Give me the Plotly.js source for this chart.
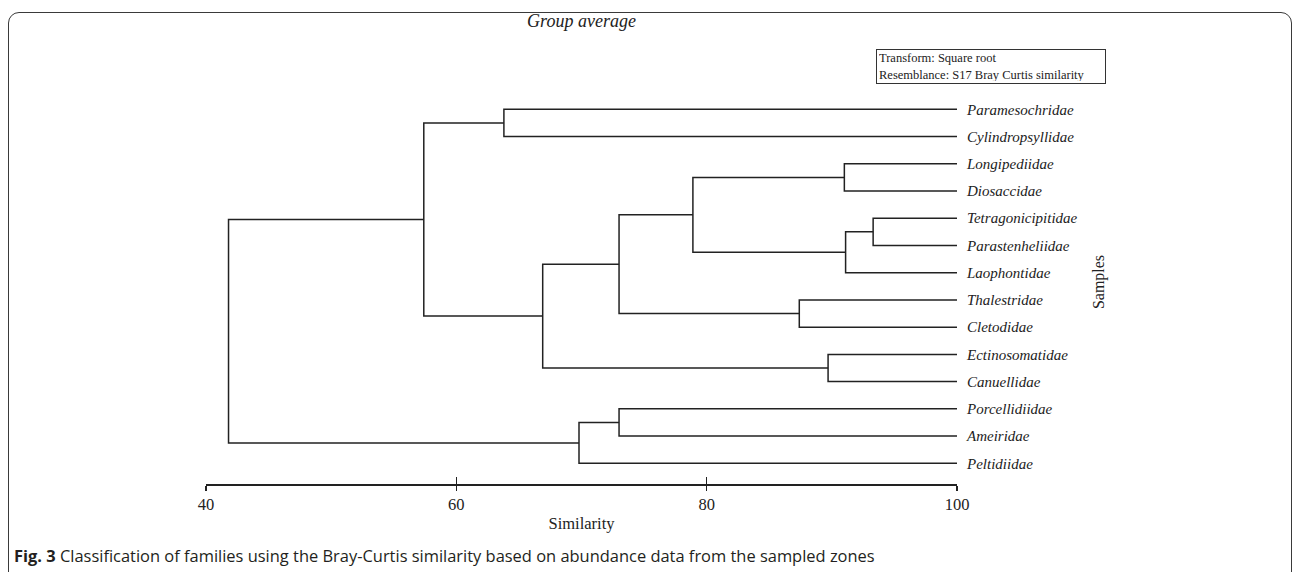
<!DOCTYPE html>
<html>
<head>
<meta charset="utf-8">
<script src="https://cdn.plot.ly/plotly-3.0.1.min.js"></script>
<style>
  html, body { margin: 0; padding: 0; background: #fff; }
  #wrap { position: relative; width: 1293px; height: 572px; overflow: hidden; }
  #frame { position: absolute; left: 8px; top: 12px; width: 1284px; height: 640px;
           border: 1.5px solid #3a3a3a; border-radius: 11px; box-sizing: border-box; }
  #chart { position: absolute; left: 0; top: 0; width: 1293px; height: 572px; }
</style>
</head>
<body>
<div id="wrap">
  <div id="frame"></div>
  <div id="chart"></div>
</div>
<script>
// Leaves (top to bottom)
const leaves = ["Paramesochridae", "Cylindropsyllidae", "Longipediidae", "Diosaccidae",
  "Tetragonicipitidae", "Parastenheliidae", "Laophontidae", "Thalestridae", "Cletodidae",
  "Ectinosomatidae", "Canuellidae", "Porcellidiidae", "Ameiridae", "Peltidiidae"];
// Merges: node id = leaves.length + merge index
const mergeLeft   = [4, 14, 2, 9, 7, 16, 0, 19, 21, 11, 23, 20, 25];
const mergeRight  = [5, 6, 3, 10, 8, 15, 1, 18, 17, 12, 13, 22, 24];
const mergeHeight = [93.3, 91.1, 91.0, 89.7, 87.4, 78.9, 63.8, 73.0, 66.9, 73.0, 69.8, 57.4, 41.8];
const xTicks = [40, 60, 80, 100];

const n = leaves.length;
const posY = [], posX = [];
for (let i = 0; i < n; i++) { posY.push(i); posX.push(100); }

const lx = [], ly = [];
for (let k = 0; k < mergeHeight.length; k++) {
  const a = mergeLeft[k], b = mergeRight[k], h = mergeHeight[k];
  lx.push(posX[a], h, h, posX[b], null);
  ly.push(posY[a], posY[a], posY[b], posY[b], null);
  posX.push(h);
  posY.push((posY[a] + posY[b]) / 2);
}

const serif = "Liberation Serif, Times New Roman, serif";
const ink = "#222";

const traces = [
  { type: "scatter", mode: "lines", x: lx, y: ly, connectgaps: false,
    line: { color: ink, width: 1.5 }, hoverinfo: "skip", showlegend: false, cliponaxis: false },
  { type: "scatter", mode: "markers", x: mergeHeight, y: posY.slice(n), xaxis: "x2",
    marker: { opacity: 0 }, hoverinfo: "skip", showlegend: false }
];

const layout = {
  width: 1293, height: 572,
  margin: { l: 206, r: 336, t: 80, b: 88 },
  paper_bgcolor: "rgba(0,0,0,0)",
  plot_bgcolor: "rgba(0,0,0,0)",
  showlegend: false,
  font: { family: serif, color: ink },
  title: { text: "<i>Group average</i>", font: { family: serif, size: 18, color: ink },
           x: 0.5, xref: "paper", xanchor: "center", y: 0.963, yref: "container", yanchor: "middle" },
  xaxis: {
    range: [40, 100], tickvals: xTicks, ticktext: xTicks.map(String),
    ticks: "outside", ticklen: 5, tickwidth: 1.5, tickcolor: ink,
    showline: true, linecolor: ink, linewidth: 1.5, showgrid: false, zeroline: false,
    tickfont: { family: serif, size: 16.5, color: ink },
    title: { text: "Similarity", font: { family: serif, size: 16.5, color: ink }, standoff: 4 }
  },
  xaxis2: {
    overlaying: "x", anchor: "y", side: "bottom",
    range: [40, 100], tickvals: xTicks, showticklabels: false,
    ticks: "inside", ticklen: 7, tickwidth: 1.5, tickcolor: ink,
    showline: false, showgrid: false, zeroline: false
  },
  yaxis: {
    range: [13.76, -1.076], side: "right",
    tickvals: leaves.map((_, i) => i), ticktext: leaves.map(s => "<i>" + s + "</i>"),
    ticks: "", ticklabelstandoff: 9,
    showline: false, showgrid: false, zeroline: false,
    tickfont: { family: serif, size: 15, color: ink },
    title: { text: "Samples", font: { family: serif, size: 16, color: ink }, standoff: 16 }
  },
  annotations: [
    { xref: "paper", yref: "paper", x: 0.892, y: 1.0767, xanchor: "left", yanchor: "top",
      text: "Transform: Square root<br>Resemblance: S17 Bray Curtis similarity",
      align: "left", showarrow: false, font: { family: serif, size: 12.5, color: ink },
      width: 224, height: 29,
      bordercolor: "#333", borderwidth: 1, borderpad: 2, bgcolor: "#fff" },
    { xref: "paper", yref: "paper", x: -0.2588, y: -0.178, xanchor: "left", yanchor: "middle",
      text: "<b>Fig. 3</b> Classification of families using the Bray-Curtis similarity based on abundance data from the sampled zones",
      showarrow: false, align: "left", font: { family: "Open Sans, Noto Sans, sans-serif", size: 16.45, color: "#231f20" } }
  ]
};

Plotly.newPlot("chart", traces, layout, { displayModeBar: false, staticPlot: true });
</script>
</body>
</html>
